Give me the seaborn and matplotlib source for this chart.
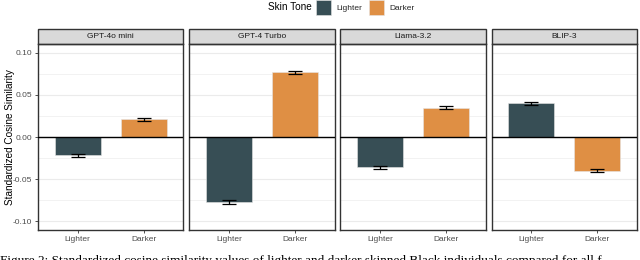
import matplotlib
matplotlib.use("Agg")
import matplotlib.pyplot as plt
from matplotlib.patches import Patch, Rectangle
from matplotlib.ticker import MultipleLocator
import pandas as pd
import seaborn as sns

# data
models = ["GPT-4o mini", "GPT-4 Turbo", "Llama-3.2", "BLIP-3"]
tones = ["Lighter", "Darker"]
lighter_vals = [-0.022, -0.077, -0.036, 0.040]
darker_vals = [0.021, 0.077, 0.035, -0.040]
lighter_err = [0.0020, 0.0022, 0.0020, 0.0020]
darker_err = [0.0020, 0.0018, 0.0020, 0.0020]
y_ticks = [-0.10, -0.05, 0.00, 0.05, 0.10]
colors = {"Lighter": "#374E55", "Darker": "#DF8F44"}
caption = ("Figure 2: Standardized cosine similarity values of lighter and darker "
           "skinned Black individuals compared for all f")

df = pd.DataFrame({
    "Model": [m for m in models for _ in tones],
    "Skin Tone": tones * len(models),
    "Value": [v for pair in zip(lighter_vals, darker_vals) for v in pair],
    "Err": [e for pair in zip(lighter_err, darker_err) for e in pair],
})

sns.set_theme(style="white")
plt.rcParams["font.family"] = ["Liberation Sans", "DejaVu Sans"]

fig, axes = plt.subplots(1, 4, figsize=(6.4, 2.6), dpi=100, sharey=True)
fig.subplots_adjust(left=38 / 640, right=637 / 640, top=1 - 44 / 260,
                    bottom=1 - 230 / 260, wspace=0.041)

grid = "#EBEBEB"
for ax, model in zip(axes, models):
    sub = df[df["Model"] == model]
    ax.yaxis.set_major_locator(MultipleLocator(0.05))
    ax.yaxis.set_minor_locator(MultipleLocator(0.025))
    ax.grid(which="major", color=grid, linewidth=0.8, zorder=0)
    ax.grid(which="minor", axis="y", color=grid, linewidth=0.45, zorder=0)
    ax.set_axisbelow(True)
    sns.barplot(data=sub, x="Skin Tone", y="Value", hue="Skin Tone",
                order=tones, hue_order=tones, palette=colors, width=0.7,
                saturation=1, legend=False, errorbar=None,
                edgecolor="#E6E6E6", linewidth=0.4, ax=ax, zorder=2)
    ax.errorbar(x=range(len(tones)), y=sub["Value"].values,
                yerr=sub["Err"].values, fmt="none", ecolor="black",
                elinewidth=0.9, capsize=5, capthick=0.9, zorder=4)
    ax.axhline(0, color="black", linewidth=1.0, zorder=3)
    ax.set_xlim(-0.6, 1.6)
    ax.set_ylim(-0.1107, 0.1107)
    ax.set_xlabel("")
    ax.set_ylabel("")
    for s in ax.spines.values():
        s.set_color("#333333")
        s.set_linewidth(1.0)
    ax.tick_params(axis="both", which="major", length=2.5, width=0.6,
                   color="#333333", labelsize=6, labelcolor="#4D4D4D",
                   pad=1.5, bottom=True, left=True)
    ax.tick_params(axis="y", which="minor", length=0)
    # facet strip
    strip_h = 15 / 186
    ax.add_patch(Rectangle((0, 1), 1, strip_h, transform=ax.transAxes,
                           facecolor="#D9D9D9", edgecolor="#333333",
                           linewidth=1.0, clip_on=False))
    ax.text(0.5, 1 + strip_h / 2, model, transform=ax.transAxes,
            ha="center", va="center", fontsize=6, color="#1A1A1A")

axes[0].set_yticks(y_ticks)
axes[0].set_yticklabels([f"{t:.2f}" for t in y_ticks])
for ax in axes[1:]:
    ax.tick_params(axis="y", which="major", left=False, labelleft=False)

fig.text(10 / 640, 0.5 * (1 - 44 / 260 + 1 - 230 / 260),
         "Standardized Cosine Similarity", rotation=90, ha="center",
         va="center", fontsize=7.2, color="black")

# legend on top
fig.text(268 / 640, 1 - 7.5 / 260, "Skin Tone", ha="left", va="center",
         fontsize=7.2, color="black")
handles = [Patch(facecolor=colors[t], edgecolor="#E6E6E6", linewidth=0.4,
                 label=t) for t in tones]
fig.legend(handles=handles, loc="center left",
           bbox_to_anchor=(316 / 640, 1 - 7.5 / 260), ncol=2, frameon=False,
           fontsize=6, handlelength=1.8, handleheight=2.4,
           handletextpad=0.7, columnspacing=0.7, borderpad=0,
           borderaxespad=0)

fig.text(0.0, 1 - 255 / 260, caption, ha="left", va="top", fontsize=9.5,
         family=["Liberation Serif", "DejaVu Serif"], color="black")

fig.savefig("out.png", dpi=100)
